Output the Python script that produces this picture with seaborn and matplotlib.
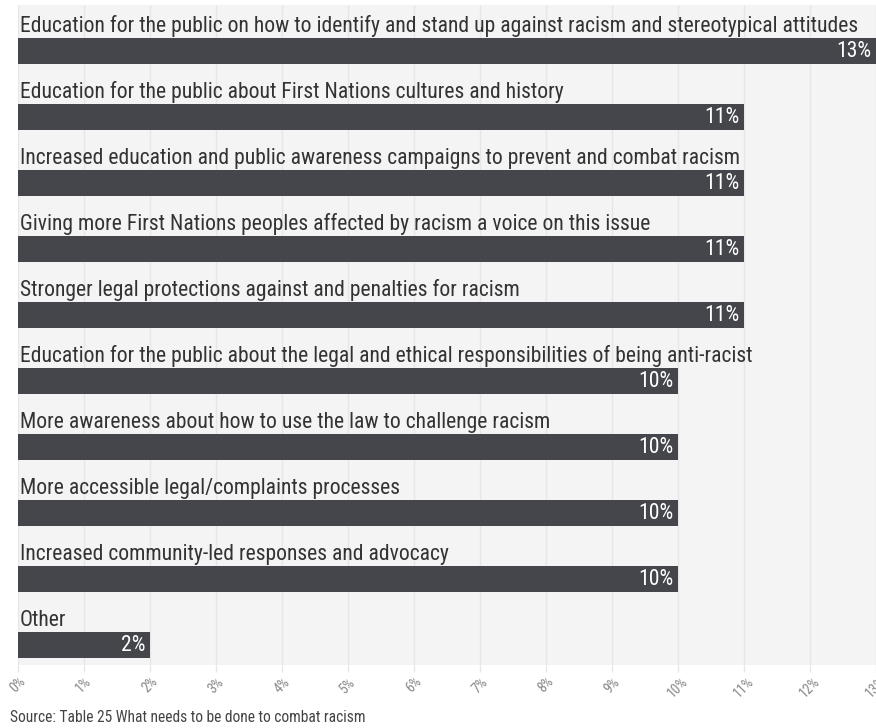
import matplotlib
matplotlib.use("Agg")
import matplotlib.pyplot as plt
from matplotlib import font_manager
from matplotlib.font_manager import FontProperties
import seaborn as sns
import pandas as pd

# Responses to "what needs to be done to combat racism"
categories = [
    "Education for the public on how to identify and stand up against racism and stereotypical attitudes",
    "Education for the public about First Nations cultures and history",
    "Increased education and public awareness campaigns to prevent and combat racism",
    "Giving more First Nations peoples affected by racism a voice on this issue",
    "Stronger legal protections against and penalties for racism",
    "Education for the public about the legal and ethical responsibilities of being anti-racist",
    "More awareness about how to use the law to challenge racism",
    "More accessible legal/complaints processes",
    "Increased community-led responses and advocacy",
    "Other",
]
values = [13, 11, 11, 11, 11, 10, 10, 10, 10, 2]
tick_values = list(range(0, 14))
tick_labels = [f"{t}%" for t in tick_values]
source_note = "Source: Table 25 What needs to be done to combat racism"


def _is_regular(entry):
    return entry.style == "normal" and entry.weight in (400, "normal", "regular", "Regular")


def pick_condensed_font():
    prefs = [
        ("Roboto Condensed", None),
        ("Roboto", "condensed"),
        ("Liberation Sans Narrow", None),
        ("DejaVu Sans", "condensed"),
        ("Roboto", None),
    ]
    for name, stretch in prefs:
        for entry in font_manager.fontManager.ttflist:
            if entry.name == name and _is_regular(entry):
                if stretch is None or entry.stretch == stretch:
                    return entry.fname
    return None


font_path = pick_condensed_font()


def fp(size):
    if font_path:
        return FontProperties(fname=font_path, size=size)
    return FontProperties(family="DejaVu Sans", size=size)


sns.set_theme(style="white")

df = pd.DataFrame({"category": categories, "value": values})

W, H = 876, 728
fig = plt.figure(figsize=(W / 100, H / 100), dpi=100)
ax = fig.add_axes([18 / W, 63 / H, (W - 18) / W, (665 - 5) / H])
ax.set_facecolor("#f4f4f4")

bar_color = "#45464c"
sns.barplot(
    data=df, x="value", y="category", order=categories, orient="h",
    color=bar_color, saturation=1, errorbar=None, width=0.394,
    linewidth=0, ax=ax,
)

# Each band holds a text label on top and the bar below it
ax.set_ylim(len(categories) - 0.697, -0.697)
ax.set_xlim(0, 13)

ax.set_xticks(tick_values)
ax.set_xticklabels(tick_labels)
for lbl in ax.get_xticklabels():
    lbl.set_fontproperties(fp(10))
    lbl.set_rotation(45)
    lbl.set_color("#888888")
ax.tick_params(axis="x", length=5, width=1, color="#e6e6e6", pad=2, bottom=True)
ax.set_yticks([])
ax.set_xlabel("")
ax.set_ylabel("")
ax.grid(axis="x", color="#e6e6e6", linewidth=1)
ax.set_axisbelow(True)
for s in ax.spines.values():
    s.set_visible(False)

for i, (cat, val) in enumerate(zip(categories, values)):
    ax.annotate(cat, xy=(0, i - 0.288), xytext=(1.5, 0), textcoords="offset pixels",
                ha="left", va="baseline", color="#333333", fontproperties=fp(15.6))
    ax.annotate(f"{val}%", xy=(val, i), xytext=(-5, 0), textcoords="offset pixels",
                ha="right", va="center", color="white", fontproperties=fp(15.6))

fig.text(10 / W, 1 - 717 / H, source_note, ha="left", va="center",
         color="#444444", fontproperties=fp(11.2))

fig.savefig("out.png", dpi=100, facecolor="white")
